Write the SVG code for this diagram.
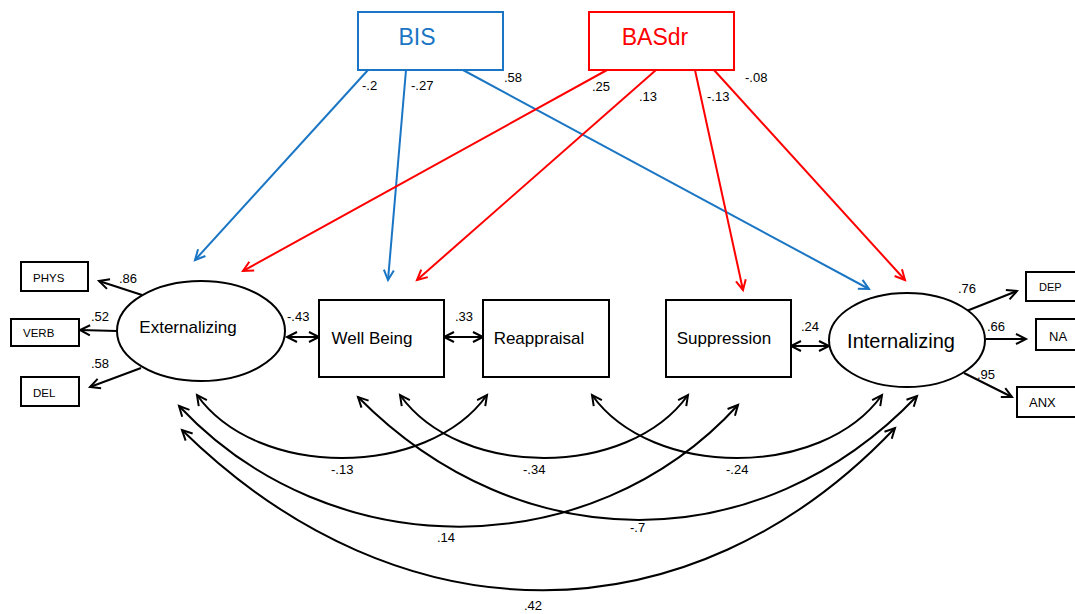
<svg xmlns="http://www.w3.org/2000/svg" width="1075" height="614" viewBox="0 0 1075 614">
<defs>
<style>
.t{font-family:"Liberation Sans",Arial,sans-serif;fill:#000}
.lbl{font-size:13px}
.box{fill:#fff;stroke:#000;stroke-width:2}
.ell{fill:#fff;stroke:#000;stroke-width:2}
.k{fill:none;stroke:#000;stroke-width:2}
.b{fill:none;stroke:#1a76c4;stroke-width:2}
.r{fill:none;stroke:#ff0000;stroke-width:2}
</style>
<marker id="ak" viewBox="0 0 12 12" refX="11" refY="6" markerWidth="12" markerHeight="12" markerUnits="userSpaceOnUse" orient="auto-start-reverse" overflow="visible"><path d="M1,1 L11,6 L1,11" fill="none" stroke="#000" stroke-width="2"/></marker>
<marker id="ab" viewBox="0 0 12 12" refX="11" refY="6" markerWidth="12" markerHeight="12" markerUnits="userSpaceOnUse" orient="auto" overflow="visible"><path d="M1,1 L11,6 L1,11" fill="none" stroke="#1a76c4" stroke-width="2"/></marker>
<marker id="ar" viewBox="0 0 12 12" refX="11" refY="6" markerWidth="12" markerHeight="12" markerUnits="userSpaceOnUse" orient="auto" overflow="visible"><path d="M1,1 L11,6 L1,11" fill="none" stroke="#ff0000" stroke-width="2"/></marker>
</defs>
<rect width="1075" height="614" fill="#fff"/>

<g id="connectors">
<!-- BIS paths -->
<line class="b" x1="368" y1="70" x2="195" y2="260" marker-end="url(#ab)"/>
<line class="b" x1="406" y1="70" x2="388" y2="280" marker-end="url(#ab)"/>
<line class="b" x1="463" y1="70" x2="869" y2="289" marker-end="url(#ab)"/>
<!-- BASdr paths -->
<line class="r" x1="607" y1="70" x2="243" y2="271" marker-end="url(#ar)"/>
<line class="r" x1="656" y1="70" x2="417" y2="280" marker-end="url(#ar)"/>
<line class="r" x1="695" y1="70" x2="743" y2="290" marker-end="url(#ar)"/>
<line class="r" x1="714" y1="70" x2="905" y2="280" marker-end="url(#ar)"/>
<!-- indicators -->
<line class="k" x1="142" y1="295" x2="99" y2="281" marker-end="url(#ak)"/>
<line class="k" x1="117" y1="331" x2="80" y2="330" marker-end="url(#ak)"/>
<line class="k" x1="141" y1="368" x2="90" y2="387" marker-end="url(#ak)"/>
<line class="k" x1="964" y1="312" x2="1017" y2="291" marker-end="url(#ak)"/>
<line class="k" x1="986" y1="339" x2="1026" y2="339" marker-end="url(#ak)"/>
<line class="k" x1="964" y1="373" x2="1012" y2="397" marker-end="url(#ak)"/>
<!-- covariances straight -->
<line class="k" x1="287" y1="337" x2="319" y2="337" marker-start="url(#ak)" marker-end="url(#ak)"/>
<line class="k" x1="444" y1="337" x2="483" y2="337" marker-start="url(#ak)" marker-end="url(#ak)"/>
<line class="k" x1="791" y1="346" x2="829" y2="346" marker-start="url(#ak)" marker-end="url(#ak)"/>
<!-- covariance arcs -->
<path class="k" d="M197,395 C257,479 427,479 487,395" marker-start="url(#ak)" marker-end="url(#ak)"/>
<path class="k" d="M400,395 C460,479 628,479 688,395" marker-start="url(#ak)" marker-end="url(#ak)"/>
<path class="k" d="M592,395 C652,479 822,479 882,395" marker-start="url(#ak)" marker-end="url(#ak)"/>
<path class="k" d="M179,406 C330,567 590,567 738,405" marker-start="url(#ak)" marker-end="url(#ak)"/>
<path class="k" d="M358,397 C520,561 760,561 917,396" marker-start="url(#ak)" marker-end="url(#ak)"/>
<path class="k" d="M182,430 C400,644 690,644 895,428" marker-start="url(#ak)" marker-end="url(#ak)"/>
</g>

<g id="BIS">
<rect x="358" y="12" width="145" height="58" fill="#fff" stroke="#1a76c4" stroke-width="2"/>
<text class="t" x="417" y="45" font-size="23" text-anchor="middle" style="fill:#1a76c4">BIS</text>
</g>
<g id="BASdr">
<rect x="589" y="12" width="145" height="58" fill="#fff" stroke="#ff0000" stroke-width="2"/>
<text class="t" x="655" y="45" font-size="23" text-anchor="middle" style="fill:#ff0000">BASdr</text>
</g>

<g id="Externalizing">
<ellipse class="ell" cx="201" cy="331" rx="84" ry="50"/>
<text class="t" x="188" y="333" font-size="17" text-anchor="middle">Externalizing</text>
</g>
<g id="Internalizing">
<ellipse class="ell" cx="907" cy="340" rx="78" ry="47"/>
<text class="t" x="901" y="348" font-size="20" text-anchor="middle">Internalizing</text>
</g>
<g id="WellBeing">
<rect class="box" x="319" y="300" width="125" height="77"/>
<text class="t" x="372" y="344" font-size="17" text-anchor="middle">Well Being</text>
</g>
<g id="Reappraisal">
<rect class="box" x="483" y="300" width="126" height="77"/>
<text class="t" x="539" y="344" font-size="17" text-anchor="middle">Reappraisal</text>
</g>
<g id="Suppression">
<rect class="box" x="666" y="300" width="125" height="77"/>
<text class="t" x="724" y="344" font-size="17" text-anchor="middle">Suppression</text>
</g>

<g id="PHYS">
<rect class="box" x="21" y="262" width="67" height="29"/>
<text class="t" x="33" y="282" font-size="11.5">PHYS</text>
</g>
<g id="VERB">
<rect class="box" x="11" y="319" width="68" height="27"/>
<text class="t" x="23" y="337" font-size="11.5">VERB</text>
</g>
<g id="DEL">
<rect class="box" x="21" y="377" width="58" height="29"/>
<text class="t" x="33" y="397" font-size="11.5">DEL</text>
</g>
<g id="DEP">
<rect class="box" x="1026" y="272" width="60" height="29"/>
<text class="t" x="1039" y="291" font-size="11">DEP</text>
</g>
<g id="NA">
<rect class="box" x="1036" y="319" width="50" height="31"/>
<text class="t" x="1049" y="341" font-size="13">NA</text>
</g>
<g id="ANX">
<rect class="box" x="1017" y="387" width="69" height="30"/>
<text class="t" x="1029" y="407" font-size="13">ANX</text>
</g>

<g id="labels" class="t lbl">
<text x="362" y="90">-.2</text>
<text x="411" y="90">-.27</text>
<text x="504" y="82">.58</text>
<text x="592" y="91">.25</text>
<text x="639" y="101">.13</text>
<text x="707" y="101">-.13</text>
<text x="745" y="82">-.08</text>
<text x="119" y="283">.86</text>
<text x="91" y="321">.52</text>
<text x="91" y="368">.58</text>
<text x="958" y="293">.76</text>
<text x="987" y="331">.66</text>
<text x="977" y="379">.95</text>
<text x="287" y="321">-.43</text>
<text x="455" y="321">.33</text>
<text x="801" y="331">.24</text>
<text x="331" y="474">-.13</text>
<text x="523" y="474">-.34</text>
<text x="726" y="474">-.24</text>
<text x="437" y="542">.14</text>
<text x="630" y="532">-.7</text>
<text x="524" y="610">.42</text>
</g>
</svg>
